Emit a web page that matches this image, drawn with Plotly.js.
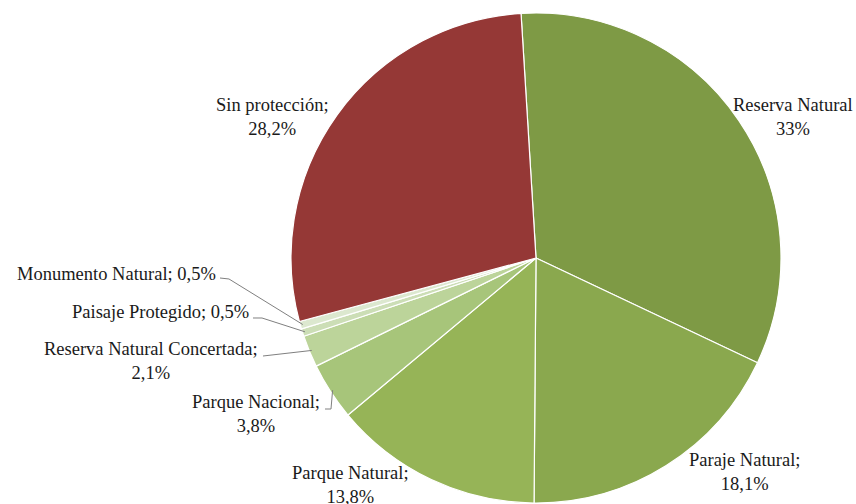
<!DOCTYPE html>
<html>
<head>
<meta charset="utf-8">
<script src="https://cdn.plot.ly/plotly-3.0.1.min.js"></script>
<style>html,body{margin:0;padding:0;background:#fff;}#chart{width:856px;height:504px;}</style>
</head>
<body>
<div id="chart"></div>
<script>
// Data
const categories = ["Reserva Natural", "Paraje Natural", "Parque Natural", "Parque Nacional",
  "Reserva Natural Concertada", "Paisaje Protegido", "Monumento Natural", "Sin protección"];
const shares = [33, 18.1, 13.8, 3.8, 2.1, 0.5, 0.5, 28.2];
const shareLabels = ["33%", "18,1%", "13,8%", "3,8%", "2,1%", "0,5%", "0,5%", "28,2%"];
const sliceColors = ["#7e9a45", "#8aa84e", "#96b457", "#a7c57a", "#bcd49a", "#ccdeb6", "#dce8cf", "#953836"];

// Layout geometry (pixels)
const W = 856, H = 504;
const CX = 536, CY = 258, R = 245;
const ROT = -3.5;
const px = x => x / W, py = y => 1 - y / H;
const FONT = "'Liberation Serif', 'Times New Roman', Times, serif";

const labelText = [
  "Reserva Natural<br>" + shareLabels[0],
  categories[1] + ";<br>" + shareLabels[1],
  categories[2] + ";<br>" + shareLabels[2],
  categories[3] + ";<br>" + shareLabels[3],
  categories[4] + ";<br>" + shareLabels[4],
  categories[5] + "; " + shareLabels[5],
  categories[6] + "; " + shareLabels[6],
  categories[7] + ";<br>" + shareLabels[7]
];
const labelPos = [
  {x: 793, y: 117, xa: "center"},
  {x: 744, y: 472, xa: "center"},
  {x: 350, y: 485, xa: "center"},
  {x: 256, y: 414, xa: "center"},
  {x: 151, y: 361, xa: "center"},
  {x: 251, y: 312, xa: "right"},
  {x: 218, y: 274, xa: "right"},
  {x: 272, y: 117, xa: "center"}
];
const leaders = {
  3: [[325, 409], [331, 409]],
  4: [[263, 356]],
  5: [[253, 318], [262, 318]],
  6: [[220, 278], [229, 279]]
};

const annotations = labelText.map((t, i) => ({
  xref: "paper", yref: "paper",
  x: px(labelPos[i].x), y: py(labelPos[i].y),
  xanchor: labelPos[i].xa, yanchor: "middle",
  text: t, showarrow: false, align: "center",
  font: {family: FONT, size: 18.5, color: "#1a1a1a"}
}));

const total = shares.reduce((a, b) => a + b, 0);
let cum = 0;
const mids = shares.map(v => { const m = cum + v / 2; cum += v; return ROT + m / total * 360; });
const shapes = [];
Object.keys(leaders).forEach(k => {
  const i = +k;
  const a = mids[i] * Math.PI / 180;
  const ex = CX + R * 0.99 * Math.sin(a), ey = CY - R * 0.99 * Math.cos(a);
  const pts = leaders[i].concat([[ex, ey]]);
  const path = pts.map((p, j) => (j ? "L" : "M") + px(p[0]).toFixed(5) + "," + py(p[1]).toFixed(5)).join(" ");
  shapes.push({type: "path", xref: "paper", yref: "paper", path: path,
    line: {color: "#808080", width: 1}});
});

const trace = {
  type: "pie",
  labels: categories,
  values: shares,
  sort: false,
  direction: "clockwise",
  rotation: ROT,
  textinfo: "none",
  hoverinfo: "label+percent",
  marker: {colors: sliceColors, line: {color: "#ffffff", width: 1.2}},
  domain: {x: [(CX - R) / W, (CX + R) / W], y: [1 - (CY + R) / H, 1 - (CY - R) / H]},
  showlegend: false
};

Plotly.newPlot("chart", [trace], {
  width: W, height: H,
  margin: {l: 0, r: 0, t: 0, b: 0},
  paper_bgcolor: "#ffffff",
  font: {family: FONT},
  showlegend: false,
  annotations: annotations,
  shapes: shapes
}, {displayModeBar: false, staticPlot: true});
</script>
</body>
</html>
